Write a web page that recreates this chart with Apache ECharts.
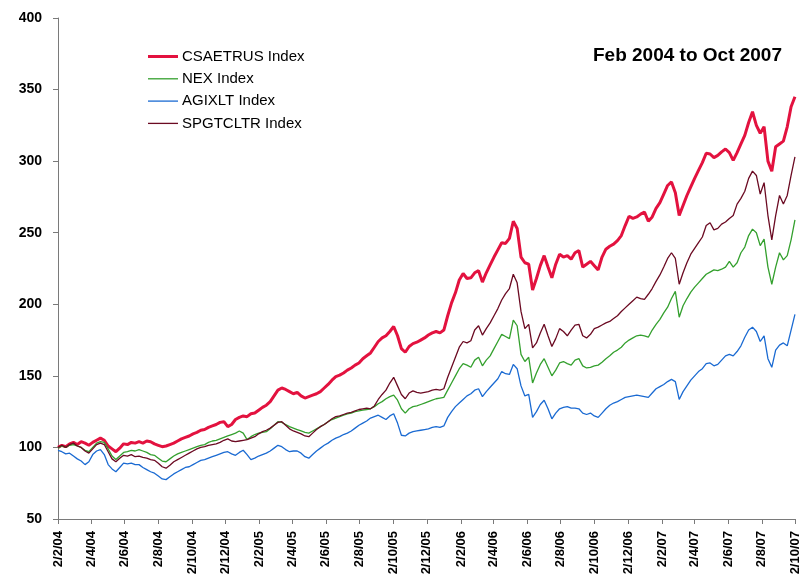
<!DOCTYPE html>
<html><head><meta charset="utf-8">
<script src="https://cdn.jsdelivr.net/npm/echarts@6/dist/echarts.min.js"></script>
<style>html,body{margin:0;padding:0;background:#fff}#c{width:802px;height:581px}</style>
</head><body><div id="c"></div>
<script>
// Weekly observations starting Mon 2 Feb 2004 (d/m/yy labels)
const startDate = [2004, 1, 2];
const tickLabels = ['2/2/04','2/4/04','2/6/04','2/8/04','2/10/04','2/12/04','2/2/05','2/4/05','2/6/05','2/8/05','2/10/05','2/12/05','2/2/06','2/4/06','2/6/06','2/8/06','2/10/06','2/12/06','2/2/07','2/4/07','2/6/07','2/8/07','2/10/07'];
const yTicks = [50,100,150,200,250,300,350,400];
const seriesNames = ['CSAETRUS Index','NEX Index','AGIXLT Index','SPGTCLTR Index'];
const titleText = 'Feb 2004 to Oct 2007';

const csaetrus = [100,101.5,100.5,102.5,103.5,102,104,103,101.5,103.5,105,106.5,105,101,99,97,99.5,102.5,102,103.5,103,104,103,104.5,104,102.5,101.5,100.5,101,102,103,104.5,106,107,108,109.5,110.5,112,112.5,114,115,116,117.5,118,114.5,116,119.5,121,122,121.5,123.5,124,126,128,129.5,132,136,140,141.5,140.5,139,137.5,138.5,136,134.5,135.5,136.5,137.5,139,141.5,144,147,149.5,150.5,152,154,155.5,157.5,159,162,164,166,170,174,176.5,178,181,184.5,178,169,166.5,170.5,172.5,173.5,175,176.5,178.5,180,181,180,182,192,201,208,217,221.5,218,218.5,222,223.5,215.5,222,227.5,233,238,243,242.5,246,258,253,233,229,228,210,218,227,234,226,218.5,228,235,233,234,231.5,236,237.5,226,228,230,227,224,233,238.5,240.5,242,244.5,248,255,261.5,260,261,263,264.5,258,261,267,271,277,283,285.5,278,262,269,276,282,288,293.5,299,305.5,305,302.5,304,306.5,308.5,306,300.5,306,312,318,327,334.5,325,319.5,324,300,293,310,312,314,324,338,345];
const nex = [99.5,101,100,101.5,102,101,100,98,97,100,103,104,103.5,99,94,91.5,94,96.5,97,98,97.5,98.5,97.5,96.5,95,94.5,92.5,90.5,90,92,94,95.5,96.5,97.5,98.5,99.5,100.5,101.5,102,103.5,104.5,105,106,107,108,109,110,111.5,110,105.5,107.5,109,110,110.5,111,113,115.5,118,117.5,116,114.5,113.5,112.5,111.5,110.5,110,111.5,113,114.5,116,118,119.5,120.5,121.5,122.5,123.5,124,125,125.5,126,126.5,127,128.5,130.5,132,134,135.5,136.5,133,127,124,127,128.5,129,130,131,132,133,134,134.5,135,140,145,150,155,158.5,157.5,156,161,163,157,161,164,169,174,179,177.5,176,189,185,165,160,163,145,152,158,162,156,150,154,159,160,158.5,157.5,161,162,157,155.5,156,157,157.5,159.5,162,164,166.5,168,170,173,175,176.5,178,178.5,178,177,182,186,189.5,194,198,204,209,191,199,204,208.5,212,215,218,221,222.5,224,223.5,224.5,226,230,226,229,236,240,248,252.5,250,241,245.5,226,214,226,236,231,234,245,259];
const agixlt = [98,97,95.5,96,94,92,90.5,88,90,95,97.5,98.5,95,88,85,83,86,89,88.5,89,88,88,86,84.5,83,82,80,78,77.5,79.5,81.5,83,84.5,86,86.5,88,89.5,91,91.5,92.5,93.5,94.5,95.5,96.5,97,95.5,94.5,96.5,98,95,91.5,92.5,94,95,96,97.5,99.5,101.5,100.5,98.5,97,97.5,97.5,96,93.5,92.5,95,97.5,99.5,101.5,103,105,106.5,107.5,109,110,111.5,113.5,115.5,117,118.5,120.5,121.5,122.5,121,119.5,122,123.5,117,108.5,108,110,111,111.5,112,112.5,113,114,114.5,114,115,121,125,128.5,131,133.5,136,137.5,140,141,135.5,139,142,145,148,153,151.5,151,158,155,143,136,137,121,125,130,133,127,120,124,127,128,128.5,127.5,127.5,127,124,123,124,122,121,124,127,129.5,131,132,133.5,135,135.5,136,136.5,136,135.5,135,138,141,142.5,144,146,147.5,146,133.5,139,143,147,150,153,155,158.5,159,157,158,161,164,165,164,167,171,177,182,184,181,174,178,162,156,168,171.5,173,171,182,193];
const spgtcltr = [100,101.5,100,102,103,101,100,97.5,96,99,102,103,102,97,92,90,92.5,94.5,94,95,93.5,94,93,92.5,91.5,91,89,86.5,85.5,87.5,90,91.5,93,94.5,96,97.5,99,100,100.5,101.5,102,102.5,103.5,105,106,104.5,104,104.5,105,105.5,106.5,107.5,109.5,111,112,113.5,115.5,117.5,118,115.5,113,111.5,110.5,109.5,108,107.5,110,112.5,114.5,116,118,120,121.5,122,123,124,124.5,125.5,126.5,127,127.5,127,129,133.5,137,140,145,149,143,137,134,138,139.5,138.5,138,138.5,139,140,140.5,140,141,149,156,163,170,174,173,174.5,182,185,178.5,183,187,192,197,203,207.5,211,221,215,195,183,186,169.5,173,180,186,178,170.5,176,183,181,178,182,185.5,186,178,176.5,179,183,184,185.5,187,188,190,192,195,197.5,200,202.5,205,204,203.5,207,211,216,220.5,226,232,236,232,214,222,229,235,239,243,247,255,257,252,253,256,257.5,260,262,270,274,279,288,293,290,277,285,262,245,262,276,270,276,290,303];

const colors = ['#E3123F','#34A02E','#1A6AD2','#6B0A22'];
const widths = [3, 1.3, 1.3, 1.3];
const valuesList = [csaetrus, nex, agixlt, spgtcltr];

const DAY = 86400000;
const t0 = Date.UTC(startDate[0], startDate[1], startDate[2]);
function parseLabel(s){ const p = s.split('/'); return Math.round((Date.UTC(2000 + (+p[2]), (+p[1]) - 1, +p[0]) - t0) / DAY); }
function fmt(v){ const d = new Date(t0 + v * DAY); return d.getUTCDate() + '/' + (d.getUTCMonth()+1) + '/' + String(d.getUTCFullYear()).slice(2); }
const tickVals = tickLabels.map(parseLabel);
const FONT = 'Liberation Sans, Arial, sans-serif';

const chart = echarts.init(document.getElementById('c'), null, {renderer:'canvas'});
chart.setOption({
  animation: false,
  backgroundColor: '#fff',
  title: { text: titleText, right: 15, top: 41, textStyle: { fontFamily: FONT, fontSize: 19, fontWeight: 'bold', color: '#000' } },
  legend: {
    orient: 'vertical', left: 143, top: 44, itemWidth: 30, itemHeight: 14, itemGap: 7.3,
    symbolKeepAspect: true,
    textStyle: { fontFamily: FONT, fontSize: 15, color: '#000', lineHeight: 15, padding: [0,0,0,-1] },
    data: seriesNames.map((n, k) => ({ name: n, icon: 'path://M0,0H30V' + widths[k] + 'H0Z' }))
  },
  grid: { left: 58, right: 1, top: 18, bottom: 62, containLabel: false },
  xAxis: {
    type: 'value', min: tickVals[0], max: tickVals[tickVals.length-1],
    axisLine: { onZero: false, lineStyle: { color: '#7a7a7a', width: 1 } },
    axisTick: { show: true, length: 5, lineStyle: { color: '#7a7a7a' }, customValues: tickVals },
    axisLabel: { customValues: tickVals, rotate: 90, margin: 12, formatter: fmt, fontFamily: FONT, fontSize: 13, fontWeight: 'bold', color: '#000', hideOverlap: false },
    splitLine: { show: false }
  },
  yAxis: {
    type: 'value', min: yTicks[0], max: yTicks[yTicks.length-1], interval: 50,
    axisLine: { show: true, lineStyle: { color: '#7a7a7a', width: 1 } },
    axisTick: { show: true, length: 5, lineStyle: { color: '#7a7a7a' } },
    axisLabel: { margin: 16, fontFamily: FONT, fontSize: 14, fontWeight: 'bold', color: '#000' },
    splitLine: { show: false }
  },
  series: seriesNames.map((n, k) => ({
    name: n, type: 'line', symbol: 'none', showSymbol: false,
    lineStyle: { color: colors[k], width: widths[k] }, itemStyle: { color: colors[k] },
    data: valuesList[k].map((v, i) => [7 * i, v])
  }))
});
</script></body></html>
